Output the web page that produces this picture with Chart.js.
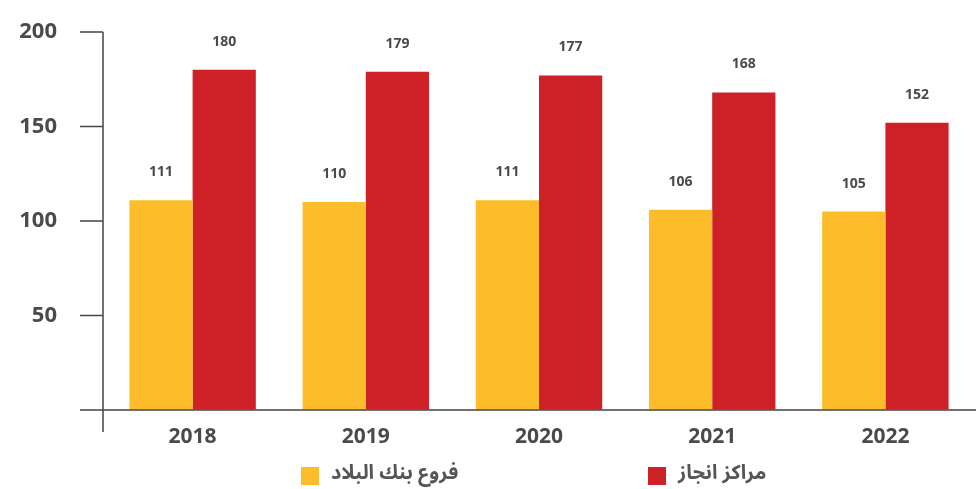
<!DOCTYPE html>
<html><head><meta charset="utf-8">
<script src="https://cdn.jsdelivr.net/npm/chart.js@4.4.0/dist/chart.umd.min.js"></script>
<style>html,body{margin:0;padding:0;background:#fff}#wrap{width:976px;height:489px;position:relative}</style>
</head><body><div id="wrap"><canvas id="c" width="976" height="489"></canvas></div>
<script>
const years = ['2018','2019','2020','2021','2022'];
const branches = [111,110,111,106,105];
const centers = [180,179,177,168,152];
const seriesNames = ['فروع بنك البلاد','مراكز انجاز'];
const seriesColors = ['#FDBD2A','#CE2027'];
const yTickValues = [0,50,100,150,200];

const AXIS = '#444444';
const TEXT = '#4a4a4c';

const axisPlugin = {
  id: 'axisExtras',
  afterDraw(chart) {
    const ctx = chart.ctx, a = chart.chartArea;
    const y = chart.scales.y;
    const y0 = y.getPixelForValue(0);
    const ax = a.left - 3;
    ctx.save();
    ctx.strokeStyle = AXIS;
    ctx.lineWidth = 1.5;
    ctx.beginPath();
    ctx.moveTo(ax - 23, y0);
    ctx.lineTo(chart.width, y0);
    ctx.moveTo(ax, y.getPixelForValue(200));
    ctx.lineTo(ax, y0 + 22);
    yTickValues.forEach(v => {
      const py = y.getPixelForValue(v);
      ctx.moveTo(ax - 23, py);
      ctx.lineTo(ax, py);
    });
    ctx.stroke();
    ctx.restore();
  }
};

const valueLabels = {
  id: 'valueLabels',
  afterDatasetsDraw(chart) {
    const ctx = chart.ctx;
    ctx.save();
    ctx.font = 'bold 14px "Open Sans"';
    ctx.fillStyle = TEXT;
    ctx.textAlign = 'center';
    ctx.textBaseline = 'middle';
    chart.data.datasets.forEach((ds, i) => {
      chart.getDatasetMeta(i).data.forEach((el, j) => {
        ctx.fillText(String(ds.data[j]), el.x, el.y - 28);
      });
    });
    ctx.restore();
  }
};

const customLegend = {
  id: 'customLegend',
  afterDraw(chart) {
    const ctx = chart.ctx;
    const boxX = [301, 648];
    const yTop = 467, box = 18;
    ctx.save();
    ctx.font = 'bold 20px "Noto Sans Arabic", "DejaVu Sans", sans-serif';
    ctx.textBaseline = 'middle';
    ctx.textAlign = 'left';
    chart.data.datasets.forEach((ds, i) => {
      ctx.fillStyle = ds.backgroundColor;
      ctx.fillRect(boxX[i], yTop, box, box);
      ctx.fillStyle = '#555555';
      ctx.fillText(ds.label, boxX[i] + box + 12, yTop + box / 2);
    });
    ctx.restore();
  }
};

new Chart(document.getElementById('c'), {
  type: 'bar',
  data: {
    labels: years,
    datasets: [
      { label: seriesNames[0], data: branches, backgroundColor: seriesColors[0], borderWidth: 0 },
      { label: seriesNames[1], data: centers, backgroundColor: seriesColors[1], borderWidth: 0 }
    ]
  },
  options: {
    responsive: false,
    animation: false,
    devicePixelRatio: 1,
    layout: { padding: { top: 32, right: 4, left: 0, bottom: 0 } },
    datasets: { bar: { categoryPercentage: 0.73, barPercentage: 1.0 } },
    plugins: { legend: { display: false }, tooltip: { enabled: false } },
    scales: {
      x: {
        grid: { display: false, drawTicks: false },
        border: { display: false },
        ticks: { font: { family: 'Open Sans', size: 21, weight: 'bold' }, color: TEXT, padding: 14 },
        afterFit(s) { s.height = 79; }
      },
      y: {
        min: 0, max: 200,
        afterBuildTicks(s) { s.ticks = yTickValues.map(v => ({ value: v })); },
        grid: { drawOnChartArea: false, drawTicks: true, tickLength: 31, color: 'rgba(0,0,0,0)' },
        border: { display: false },
        ticks: {
          font: { family: 'Open Sans', size: 22, weight: 'bold' }, color: TEXT, padding: 18,
          callback: v => (v === 0 ? '' : String(v))
        },
        afterFit(s) { s.width = 106; }
      }
    }
  },
  plugins: [axisPlugin, valueLabels, customLegend]
});
</script>
</body></html>
